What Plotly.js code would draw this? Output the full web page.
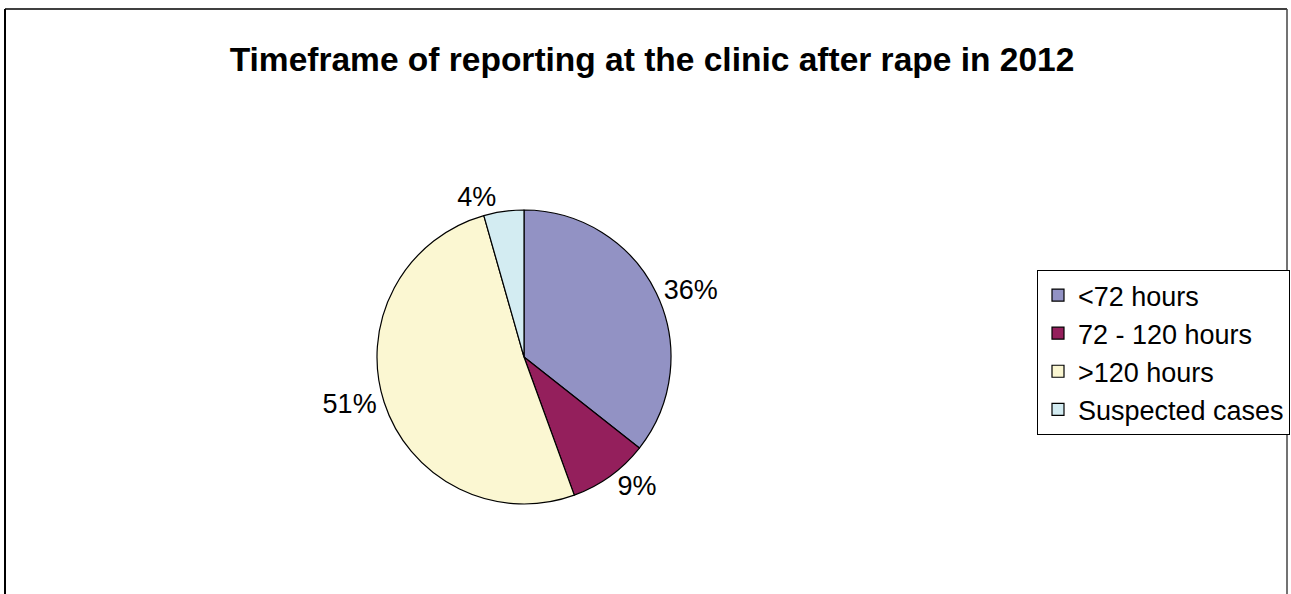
<!DOCTYPE html>
<html>
<head>
<meta charset="utf-8">
<script src="https://cdn.plot.ly/plotly-3.0.1.min.js"></script>
<style>
  html, body { margin: 0; padding: 0; background: #fff; }
  #chart { width: 1291px; height: 594px; }
</style>
</head>
<body>
<div id="chart"></div>
<script>
const categories = ["<72 hours", "72 - 120 hours", ">120 hours", "Suspected cases"];
const shares = [35.6, 8.8, 51.1, 4.4];
const sliceColors = ["#9292C4", "#941F5C", "#FBF7D2", "#D3ECF2"];
const chartTitle = "Timeframe of reporting at the clinic after rape in 2012";

const W = 1291, H = 594;
const cx = 524, cy = 357, r = 147;

const trace = {
  type: "pie",
  labels: categories,
  values: shares,
  sort: false,
  direction: "clockwise",
  rotation: 0,
  marker: { colors: sliceColors, line: { color: "#000", width: 1.2 } },
  textposition: "outside",
  texttemplate: "%{percent:.0%}",
  textfont: { family: "Liberation Sans, Arial, sans-serif", size: 27, color: "#000" },
  outsidetextfont: { family: "Liberation Sans, Arial, sans-serif", size: 27, color: "#000" },
  hoverinfo: "label+percent",
  domain: {
    x: [(cx - r) / W, (cx + r) / W],
    y: [(H - cy - r) / H, (H - cy + r) / H]
  }
};

const layout = {
  width: W, height: H,
  margin: { l: 0, r: 0, t: 0, b: 0 },
  paper_bgcolor: "#fff",
  plot_bgcolor: "#fff",
  font: { family: "Liberation Sans, Arial, sans-serif", color: "#000" },
  title: {
    text: "<b>" + chartTitle + "</b>",
    font: { family: "Liberation Sans, Arial, sans-serif", size: 33.5, color: "#000" },
    x: 652 / W, xanchor: "center",
    y: 1 - 59 / H, yanchor: "middle",
    xref: "paper", yref: "paper"
  },
  showlegend: true,
  legend: {
    x: 1290 / W, xanchor: "right",
    y: 1 - 270 / H, yanchor: "top",
    bordercolor: "#000", borderwidth: 1,
    bgcolor: "#fff",
    font: { family: "Liberation Sans, Arial, sans-serif", size: 27, color: "#000" },
    itemwidth: 30
  },
  shapes: [
    { type: "line", xref: "paper", yref: "paper", x0: 5 / W, x1: 5 / W, y0: 0, y1: 1 - 9 / H, line: { color: "#000", width: 2 } },
    { type: "line", xref: "paper", yref: "paper", x0: 5 / W, x1: 1287 / W, y0: 1 - 9 / H, y1: 1 - 9 / H, line: { color: "#000", width: 1.5 } },
    { type: "line", xref: "paper", yref: "paper", x0: 1287 / W, x1: 1287 / W, y0: 0, y1: 1 - 9 / H, line: { color: "#444", width: 1.5 } }
  ]
};

Plotly.newPlot("chart", [trace], layout, { displayModeBar: false, staticPlot: true });
</script>
</body>
</html>
